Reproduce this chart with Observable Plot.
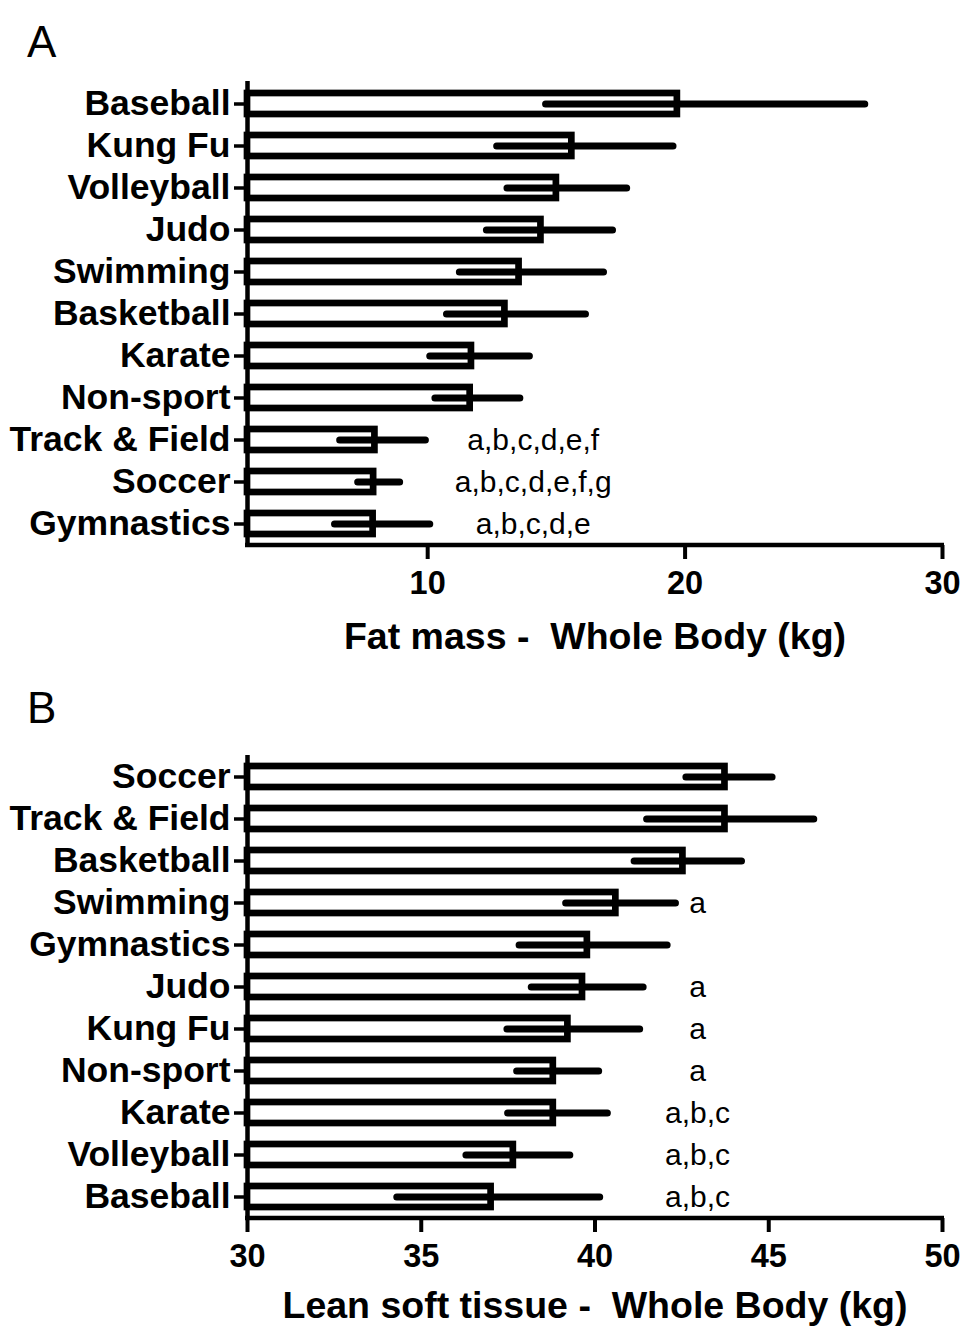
<!DOCTYPE html>
<html><head><meta charset="utf-8">
<script src="https://cdn.jsdelivr.net/npm/d3@7"></script>
<script src="https://cdn.jsdelivr.net/npm/@observablehq/plot@0.6"></script>
<style>
body{margin:0;background:#fff;width:964px;height:1327px;position:relative;overflow:hidden;font-family:"Liberation Sans",Arial,Helvetica,sans-serif}
.panel{position:absolute;left:0;z-index:1}
.letter{position:absolute;left:27px;font-size:44px;line-height:1;color:#000;font-family:"Liberation Sans",Arial,sans-serif;z-index:2}
svg text{white-space:pre}
</style></head><body>
<div class="letter" style="top:20px">A</div>
<div id="a" class="panel" style="top:60px"></div>
<div class="letter" style="top:686px">B</div>
<div id="b" class="panel" style="top:720px"></div>
<script>
// Panel A: Fat mass - Whole Body (kg)
const sportsA = ["Baseball","Kung Fu","Volleyball","Judo","Swimming","Basketball","Karate","Non-sport","Track & Field","Soccer","Gymnastics"];
const fatMean = [19.7, 15.6, 15.0, 14.4, 13.55, 13.0, 11.7, 11.65, 7.95, 7.9, 7.88];
const fatLow  = [14.6, 12.7, 13.1, 12.3, 11.25, 10.75, 10.1, 10.3, 6.6, 7.3, 6.4];
const fatHigh = [27.0, 19.55, 17.75, 17.2, 16.85, 16.15, 13.97, 13.6, 9.93, 8.93, 10.1];
const fatNote = ["","","","","","","","","a,b,c,d,e,f","a,b,c,d,e,f,g","a,b,c,d,e"];
const ticksA = [10, 20, 30];

// Panel B: Lean soft tissue - Whole Body (kg)
const sportsB = ["Soccer","Track & Field","Basketball","Swimming","Gymnastics","Judo","Kung Fu","Non-sport","Karate","Volleyball","Baseball"];
const leanMean = [43.74, 43.74, 42.53, 40.6, 39.78, 39.64, 39.22, 38.8, 38.8, 37.65, 37.01];
const leanLow  = [42.63, 41.5, 41.14, 39.17, 37.83, 38.18, 37.48, 37.76, 37.5, 36.3, 34.31];
const leanHigh = [45.11, 46.31, 44.23, 42.33, 42.09, 41.4, 41.3, 40.12, 40.37, 39.29, 40.15];
const leanNote = ["","","","a","","a","a","a","a,b,c","a,b,c","a,b,c"];
const ticksB = [30, 35, 40, 45, 50];

const FONT = '"Liberation Sans", Arial, Helvetica, sans-serif';

function makePanel(o) {
  const data = o.sports.map((s, i) => ({sport: s, mean: o.mean[i], low: o.low[i], high: o.high[i], note: o.notes[i]}));
  const xAxisLine = (index, scales, values, dims) =>
    d3.create("svg:line")
      .attr("x1", dims.marginLeft - 2)
      .attr("x2", dims.width - dims.marginRight + 2)
      .attr("y1", dims.height - dims.marginBottom)
      .attr("y2", dims.height - dims.marginBottom)
      .attr("stroke", "black")
      .attr("stroke-width", 4.5)
      .node();
  return Plot.plot({
    width: 964,
    height: o.height,
    marginLeft: 247,
    marginRight: 22,
    marginTop: o.marginTop,
    marginBottom: o.marginBottom,
    style: {fontFamily: FONT, color: "black", background: "transparent", overflow: "visible", fontWeight: "bold"},
    x: {domain: o.domain, clamp: true},
    y: {domain: o.sports, paddingInner: 0.5, paddingOuter: 0.25, label: null},
    marks: [
      Plot.barX(data, {x1: o.domain[0], x2: "mean", y: "sport", fill: "white", stroke: "black", strokeWidth: 6.7}),
      Plot.ruleY(data, {y: "sport", x1: "low", x2: "high", stroke: "black", strokeWidth: 7, strokeLinecap: "round"}),
      Plot.text(data, {y: "sport", x: () => o.noteX, text: "note", fontSize: 30, fontWeight: "normal", fill: "black"}),
      Plot.ruleX([o.domain[0]], {stroke: "black", strokeWidth: 4.5}),
      xAxisLine,
      Plot.axisY({tickSize: 13, tickPadding: 4, fontSize: 35.5, fontWeight: "bold", stroke: "black", strokeWidth: 3.5, fill: "black", label: null}),
      Plot.axisX({ticks: o.ticks, tickSize: 14, tickPadding: 11, fontSize: 32.5, fontWeight: "bold", stroke: "black", strokeWidth: 4, fill: "black", label: null, tickFormat: d => String(d)}),
      Plot.text([o.label], {frameAnchor: "bottom", dy: o.labelDy, fontSize: 37.5, fontWeight: "bold", fill: "black"})
    ]
  });
}

document.getElementById("a").append(makePanel({
  sports: sportsA, mean: fatMean, low: fatLow, high: fatHigh, notes: fatNote,
  domain: [3, 30], ticks: ticksA, noteX: 14.1,
  label: "Fat mass -  Whole Body (kg)",
  height: 605, marginTop: 21, marginBottom: 120, labelDy: 103
}));

document.getElementById("b").append(makePanel({
  sports: sportsB, mean: leanMean, low: leanLow, high: leanHigh, notes: leanNote,
  domain: [30, 50], ticks: ticksB, noteX: 42.95,
  label: "Lean soft tissue -  Whole Body (kg)",
  height: 607, marginTop: 35, marginBottom: 109, labelDy: 99
}));
</script>
</body></html>
